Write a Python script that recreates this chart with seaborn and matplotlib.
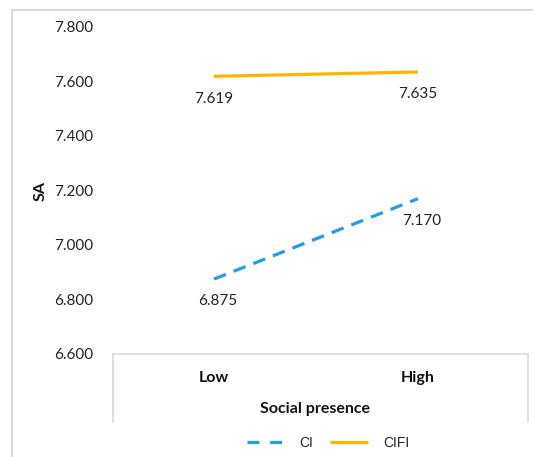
import matplotlib
matplotlib.use("Agg")
import matplotlib.pyplot as plt
from matplotlib.lines import Line2D
from matplotlib.patches import Rectangle
import pandas as pd
import seaborn as sns

# Interaction plot: SA by social presence for the two conditions
categories = ["Low", "High"]
ci_values = [6.875, 7.170]
cifi_values = [7.619, 7.635]
series_names = ["CI", "CIFI"]
y_ticks = [6.6, 6.8, 7.0, 7.2, 7.4, 7.6, 7.8]

df = pd.DataFrame({
    "pos": [0, 1, 0, 1],
    "SA": ci_values + cifi_values,
    "group": [series_names[0]] * 2 + [series_names[1]] * 2,
})

sns.set_theme(style="white")
plt.rcParams["font.family"] = ["Lato", "DejaVu Sans"]

W, H = 533, 457
fig = plt.figure(figsize=(W / 100, H / 100), dpi=100)

def fx(px):
    return px / W

def fy(py):
    return 1 - py / H

ax_left, ax_right, ax_top, ax_bottom = 113, 528, 27, 354
ax = fig.add_axes([fx(ax_left), fy(ax_bottom), (ax_right - ax_left) / W, (ax_bottom - ax_top) / H])

blue = "#1FA0E6"
gold = "#FFB400"
palette = {"CI": blue, "CIFI": gold}
dashes = {"CI": (4, 2.6), "CIFI": ""}

sns.lineplot(data=df, x="pos", y="SA", hue="group", style="group",
             palette=palette, dashes=dashes, linewidth=2.3, ax=ax,
             legend=False, solid_capstyle="butt", dash_capstyle="butt")

# value labels under each point
offsets = {"CI": (3, -16), "CIFI": (0, -16)}
for name, vals in zip(series_names, [ci_values, cifi_values]):
    for i, v in enumerate(vals):
        ax.annotate(f"{v:.3f}", (i, v), xytext=offsets[name], textcoords="offset points",
                    ha="center", va="center", fontsize=11, color="#222222")

# x range so both categories sit in their bands
px_per_unit = 204
low_px = 214
ax.set_xlim((ax_left - low_px) / px_per_unit, (ax_right - low_px) / px_per_unit)
ax.set_ylim(6.6, 7.8)
ax.set_yticks(y_ticks)
ax.set_yticklabels([f"{t:.3f}" for t in y_ticks], fontsize=11, color="#222222")
ax.set_xticks([0, 1])
ax.set_xticklabels(categories, fontsize=11.5, fontweight="bold", color="#111111")
ax.tick_params(axis="y", length=0, pad=14.5)
ax.tick_params(axis="x", length=0, pad=12)

for s in ["left", "right", "top"]:
    ax.spines[s].set_visible(False)
ax.spines["bottom"].set_color("#D9D9D9")
ax.spines["bottom"].set_linewidth(1.2)

ax.set_ylabel("SA", fontsize=11.5, fontweight="bold", color="#111111")
ax.yaxis.label.set(ha="center", va="center", rotation_mode="default")
ax.yaxis.set_label_coords((41 - ax_left) / (ax_right - ax_left), (ax_bottom - 191) / (ax_bottom - ax_top))

ax.set_xlabel("Social presence", fontsize=11.5, fontweight="bold", color="#111111")
ax.xaxis.label.set(ha="center", va="center")
ax.xaxis.set_label_coords((315 - ax_left) / (ax_right - ax_left), (ax_bottom - 409) / (ax_bottom - ax_top))

# box sides under the category axis
for xp in (ax_left, ax_right):
    fig.add_artist(Line2D([fx(xp), fx(xp)], [fy(ax_bottom), fy(422)],
                          transform=fig.transFigure, color="#D9D9D9", lw=1.2))

# chart frame
fig.add_artist(Rectangle((fx(12), -0.2), 1.2, fy(10) + 0.2, transform=fig.transFigure,
                         fill=False, edgecolor="#D9D9D9", lw=1.5))

handles = [
    Line2D([], [], color=blue, lw=2.3, dashes=(3.7, 3.4), dash_capstyle="butt"),
    Line2D([], [], color=gold, lw=2.3, solid_capstyle="butt"),
]
leg = fig.legend(handles, series_names, loc="center", bbox_to_anchor=(fx(328), fy(443)),
                 ncol=2, frameon=False, handlelength=2.7, columnspacing=1.2, handletextpad=1.1,
                 prop={"family": ["Liberation Sans", "DejaVu Sans"], "size": 10})
for t in leg.get_texts():
    t.set_color("#222222")

fig.savefig("out.png", dpi=100)
